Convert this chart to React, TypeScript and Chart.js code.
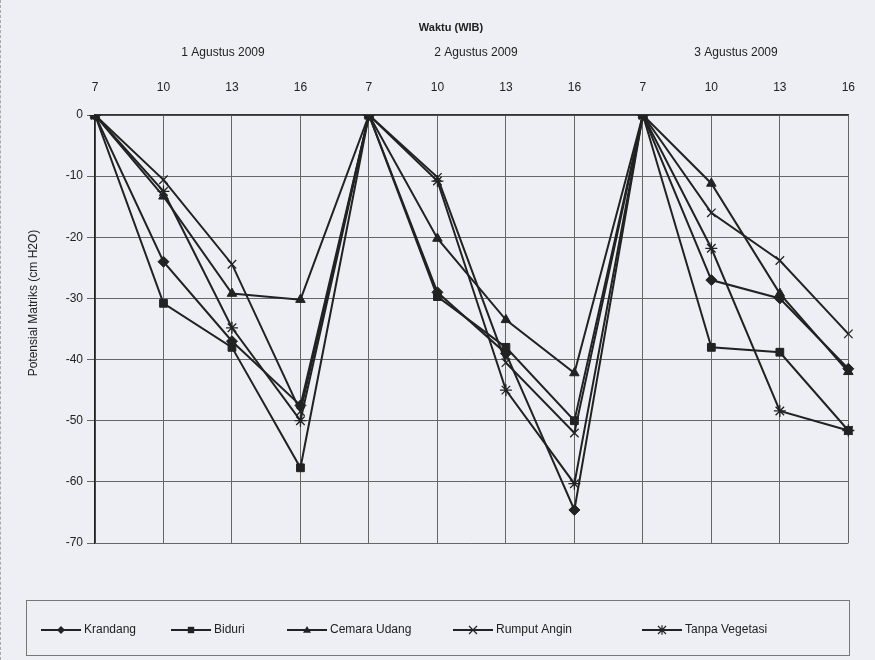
import React, { useEffect, useRef } from "react";
import { Chart, registerables } from "chart.js";

Chart.register(...registerables);

const hours = ["7", "10", "13", "16", "7", "10", "13", "16", "7", "10", "13", "16"];
const dates = ["1 Agustus 2009", "2 Agustus 2009", "3 Agustus 2009"];
const yTicks = [0, -10, -20, -30, -40, -50, -60, -70];

const krandang = [0, -24, -37, -47.5, 0, -29, -39, -64.6, 0, -27, -30, -41.5];
const biduri = [0, -30.8, -38, -57.7, 0, -29.7, -38, -50, 0, -38, -38.8, -51.6];
const cemaraUdang = [0, -13.3, -29.2, -30.2, 0, -20.2, -33.5, -42.2, 0, -11.2, -29.2, -42];
const rumputAngin = [0, -10.6, -24.4, -48.5, 0, -10.2, -40.5, -52, 0, -16, -23.8, -35.8];
const tanpaVegetasi = [0, -12.5, -34.8, -50, 0, -10.8, -45, -60.3, 0, -21.8, -48.4, -51.6];

const seriesNames = ["Krandang", "Biduri", "Cemara Udang", "Rumput Angin", "Tanpa Vegetasi"];
const seriesStyles = ["rectRot", "rect", "triangle", "crossRot", "star"];

const FONT = "'Liberation Sans', Arial, sans-serif";
const INK = "#222";

function drawMarker(ctx: CanvasRenderingContext2D, style: string, x: number, y: number, r: number) {
  ctx.beginPath();
  if (style === "rectRot") {
    ctx.moveTo(x, y - r);
    ctx.lineTo(x + r, y);
    ctx.lineTo(x, y + r);
    ctx.lineTo(x - r, y);
    ctx.closePath();
    ctx.fill();
  } else if (style === "rect") {
    ctx.rect(x - r * 0.8, y - r * 0.8, r * 1.6, r * 1.6);
    ctx.fill();
  } else if (style === "triangle") {
    ctx.moveTo(x, y - r);
    ctx.lineTo(x + r, y + r * 0.7);
    ctx.lineTo(x - r, y + r * 0.7);
    ctx.closePath();
    ctx.fill();
  } else {
    ctx.lineWidth = 1.2;
    ctx.moveTo(x - r, y - r);
    ctx.lineTo(x + r, y + r);
    ctx.moveTo(x - r, y + r);
    ctx.lineTo(x + r, y - r);
    if (style === "star") {
      ctx.moveTo(x, y - r * 1.2);
      ctx.lineTo(x, y + r * 1.2);
    }
    ctx.stroke();
  }
}

const overlay = {
  id: "overlay",
  afterDraw(chart: any) {
    const ctx = chart.ctx as CanvasRenderingContext2D;
    ctx.save();
    ctx.fillStyle = INK;
    ctx.textAlign = "center";
    ctx.textBaseline = "middle";
    ctx.font = `bold 11px ${FONT}`;
    ctx.fillText("Waktu (WIB)", 450, 28);
    ctx.font = `12px ${FONT}`;
    const dx = [222, 475, 735];
    dates.forEach((d, i) => ctx.fillText(d, dx[i], 53));
    ctx.save();
    ctx.translate(33, 303);
    ctx.rotate(-Math.PI / 2);
    ctx.font = `12px ${FONT}`;
    ctx.fillText("Potensial Matriks (cm H2O)", 0, 0);
    ctx.restore();
    ctx.strokeStyle = "#777";
    ctx.lineWidth = 1;
    ctx.strokeRect(25.5, 600.5, 823, 55);
    const starts = [40, 170, 286, 452, 641];
    const ly = 630;
    chart.data.datasets.forEach((ds: any, i: number) => {
      const x0 = starts[i];
      ctx.strokeStyle = INK;
      ctx.fillStyle = INK;
      ctx.lineWidth = 2;
      ctx.beginPath();
      ctx.moveTo(x0, ly);
      ctx.lineTo(x0 + 40, ly);
      ctx.stroke();
      drawMarker(ctx, ds.pointStyle, x0 + 20, ly, 4);
      ctx.fillStyle = INK;
      ctx.font = `12px ${FONT}`;
      ctx.textAlign = "left";
      ctx.fillText(ds.label, x0 + 43, ly);
    });
    ctx.restore();
  },
};

export default function App() {
  const ref = useRef<HTMLCanvasElement>(null);
  useEffect(() => {
    document.body.style.margin = "0";
    document.body.style.background = "#edeff4";
    const series = [krandang, biduri, cemaraUdang, rumputAngin, tanpaVegetasi];
    const chart = new Chart(ref.current!, {
      type: "line",
      data: {
        labels: hours,
        datasets: series.map((s, i) => ({
          label: seriesNames[i],
          data: s,
          borderColor: INK,
          backgroundColor: INK,
          borderWidth: 2,
          pointStyle: seriesStyles[i] as any,
          pointRadius: i >= 3 ? 6 : 5.5,
          pointBorderWidth: i >= 3 ? 1.3 : 1,
          tension: 0,
        })),
      },
      options: {
        animation: false,
        responsive: false,
        devicePixelRatio: 1,
        layout: { padding: { left: 0, right: 23, top: 0, bottom: 117 } },
        plugins: { legend: { display: false }, tooltip: { enabled: false } },
        scales: {
          x: {
            type: "category",
            position: "top",
            offset: false,
            afterFit: (s: any) => {
              s.height = 115;
            },
            grid: { color: "#666", lineWidth: 1, drawTicks: false },
            border: { color: "#333", width: 1.5 },
            ticks: { color: INK, font: { family: FONT, size: 12 }, padding: 20, maxRotation: 0, autoSkip: false },
          },
          y: {
            min: -70,
            max: 0,
            afterFit: (s: any) => {
              s.width = 94;
            },
            afterBuildTicks: (s: any) => {
              s.ticks = yTicks.map((v) => ({ value: v }));
            },
            grid: { color: "#666", lineWidth: 1, tickLength: 8 },
            border: { color: "#222", width: 1.5 },
            ticks: { color: INK, font: { family: FONT, size: 12 }, padding: 4 },
          },
        },
      },
      plugins: [overlay],
    });
    return () => chart.destroy();
  }, []);
  return (
    <div style={{ position: "relative", width: 875, height: 660, borderLeft: "1px dashed #aaa", boxSizing: "border-box" }}>
      <canvas ref={ref} width={874} height={660} style={{ display: "block" }} />
    </div>
  );
}
